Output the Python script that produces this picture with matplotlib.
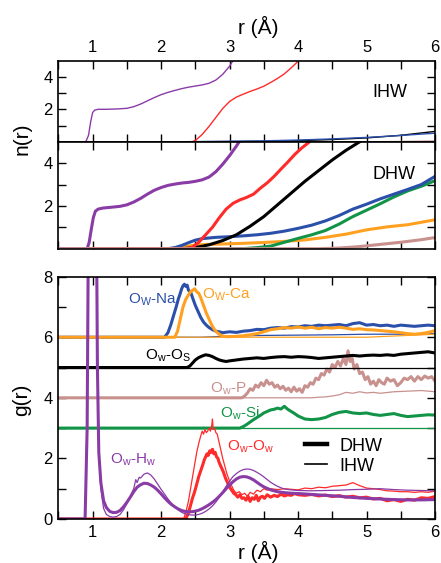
import matplotlib
matplotlib.use("Agg")
import matplotlib.pyplot as plt
from matplotlib.ticker import FixedLocator, MultipleLocator
from matplotlib.lines import Line2D

plt.rcParams['font.family'] = ['Liberation Sans', 'DejaVu Sans']
plt.rcParams['mathtext.fontset'] = 'custom'
plt.rcParams['mathtext.rm'] = 'Liberation Sans'

PURPLE = '#8a3ca6'
RED = '#ff2a2a'
BLUE = '#2b50aa'
ORANGE = '#ffa020'
GREEN = '#129448'
PINK = '#c8918e'
BLACK = '#000000'

# ---------------- n(r), IHW (top panel) ----------------
ihw_n_oh_r = [0.5, 0.9, 0.94, 0.97, 1.0, 1.03, 1.08, 1.2, 1.35, 1.5, 1.6, 1.7, 1.8, 1.9, 2.0, 2.1, 2.2, 2.3, 2.4, 2.5, 2.6, 2.7, 2.8, 2.9, 3.0, 3.05, 3.1]
ihw_n_oh = [0, 0, 0.4, 1.2, 1.8, 1.95, 2.0, 2.0, 2.02, 2.06, 2.16, 2.32, 2.52, 2.72, 2.9, 3.04, 3.16, 3.27, 3.36, 3.43, 3.5, 3.6, 3.8, 4.15, 4.65, 5.0, 5.4]
ihw_n_oo_r = [0.5, 2.45, 2.5, 2.6, 2.7, 2.8, 2.9, 3.0, 3.1, 3.2, 3.3, 3.4, 3.5, 3.6, 3.7, 3.8, 3.9, 4.0, 4.1]
ihw_n_oo = [0, 0, 0.08, 0.45, 0.95, 1.5, 2.05, 2.48, 2.75, 2.93, 3.1, 3.25, 3.42, 3.65, 3.9, 4.18, 4.55, 4.95, 5.4]
ihw_n_na_r = [0.5, 2.2, 2.6, 3.0, 3.5, 4.0, 4.5, 5.0, 5.5, 6.0]
ihw_n_na = [0, 0, 0.02, 0.04, 0.06, 0.11, 0.18, 0.27, 0.39, 0.53]
ihw_n_os_r = [0.5, 2.6, 3.0, 3.5, 4.0, 4.5, 5.0, 5.5, 6.0]
ihw_n_os = [0, 0, 0.01, 0.03, 0.07, 0.14, 0.24, 0.4, 0.64]
ihw_n_p_r = [0.5, 5.0, 5.5, 6.0]
ihw_n_p = [0, 0, 0.02, 0.05]

# ---------------- n(r), DHW (middle panel) ----------------
dhw_n_oh_r = [0.5, 0.92, 0.95, 0.98, 1.01, 1.04, 1.08, 1.15, 1.25, 1.4, 1.5, 1.6, 1.7, 1.8, 1.9, 2.0, 2.1, 2.2, 2.3, 2.4, 2.5, 2.6, 2.7, 2.8, 2.9, 3.0, 3.1, 3.2]
dhw_n_oh = [0, 0, 0.3, 0.9, 1.45, 1.75, 1.85, 1.9, 1.93, 1.98, 2.05, 2.18, 2.35, 2.55, 2.73, 2.86, 2.96, 3.02, 3.07, 3.1, 3.15, 3.22, 3.35, 3.6, 3.95, 4.35, 4.8, 5.3]
dhw_n_oo_r = [0.5, 2.35, 2.45, 2.55, 2.65, 2.75, 2.85, 2.95, 3.05, 3.15, 3.25, 3.35, 3.45, 3.55, 3.65, 3.75, 3.85, 3.95, 4.05, 4.15, 4.25]
dhw_n_oo = [0, 0, 0.05, 0.3, 0.65, 1.0, 1.45, 1.85, 2.12, 2.28, 2.4, 2.55, 2.83, 3.08, 3.38, 3.72, 4.05, 4.4, 4.7, 4.95, 5.3]
dhw_n_os_r = [0.5, 2.3, 2.5, 2.7, 2.9, 3.1, 3.3, 3.5, 3.7, 3.9, 4.1, 4.3, 4.5, 4.7, 4.9, 5.0]
dhw_n_os = [0, 0, 0.05, 0.18, 0.38, 0.65, 1.05, 1.5, 2.05, 2.6, 3.15, 3.65, 4.15, 4.6, 5.0, 5.25]
dhw_n_na_r = [0.5, 2.1, 2.2, 2.3, 2.4, 2.5, 2.6, 2.8, 3.0, 3.2, 3.4, 3.6, 3.8, 4.0, 4.2, 4.4, 4.6, 4.8, 5.0, 5.2, 5.4, 5.6, 5.8, 6.0]
dhw_n_na = [0, 0, 0.05, 0.15, 0.28, 0.4, 0.47, 0.53, 0.56, 0.6, 0.65, 0.72, 0.82, 0.95, 1.1, 1.3, 1.55, 1.85, 2.08, 2.33, 2.55, 2.77, 3.0, 3.38]
dhw_n_si_r = [0.5, 3.2, 3.4, 3.6, 3.8, 4.0, 4.2, 4.4, 4.6, 4.8, 5.0, 5.2, 5.4, 5.6, 5.8, 6.0]
dhw_n_si = [0, 0, 0.05, 0.12, 0.3, 0.48, 0.65, 0.85, 1.15, 1.5, 1.8, 2.1, 2.42, 2.7, 2.92, 3.18]
dhw_n_ca_r = [0.5, 2.15, 2.3, 2.5, 2.7, 2.9, 3.2, 3.5, 3.8, 4.1, 4.4, 4.7, 5.0, 5.3, 5.6, 6.0]
dhw_n_ca = [0, 0, 0.08, 0.17, 0.2, 0.22, 0.25, 0.29, 0.34, 0.41, 0.53, 0.68, 0.88, 1.02, 1.12, 1.35]
dhw_n_p_r = [0.5, 4.3, 4.6, 4.9, 5.2, 5.5, 5.8, 6.0]
dhw_n_p = [0, 0, 0.03, 0.1, 0.2, 0.3, 0.42, 0.52]

# ---------------- g(r) (bottom panel) ----------------
# O_w-H_w
dhw_g_oh_r = [0.5, 0.89, 0.92, 0.95, 0.98, 1.0, 1.03, 1.05, 1.07, 1.09, 1.12, 1.16, 1.2, 1.25, 1.3, 1.35, 1.4, 1.45, 1.5, 1.55, 1.6, 1.65, 1.7, 1.75, 1.8, 1.85, 1.9, 1.95, 2.0, 2.05, 2.1, 2.15, 2.2, 2.25, 2.3, 2.35, 2.4, 2.45, 2.5, 2.55, 2.6, 2.65, 2.7, 2.75, 2.8, 2.85, 2.9, 2.95, 3.0, 3.05, 3.1, 3.15, 3.2, 3.25, 3.3, 3.35, 3.4, 3.45, 3.5, 3.6, 3.7, 3.8, 3.9, 4.0, 4.2, 4.4, 4.6, 4.8, 5.0, 5.2, 5.4, 5.6, 5.8, 6.0]
dhw_g_oh = [0, 0, 3, 14, 32, 38, 25, 12, 5, 2.2, 1.2, 0.6, 0.38, 0.25, 0.21, 0.22, 0.28, 0.4, 0.55, 0.72, 0.9, 1.05, 1.13, 1.18, 1.17, 1.12, 1.05, 0.95, 0.83, 0.7, 0.58, 0.48, 0.4, 0.33, 0.28, 0.25, 0.24, 0.24, 0.26, 0.29, 0.34, 0.4, 0.47, 0.55, 0.64, 0.75, 0.87, 1.0, 1.12, 1.23, 1.32, 1.38, 1.4, 1.39, 1.35, 1.29, 1.21, 1.13, 1.06, 0.96, 0.9, 0.87, 0.85, 0.84, 0.81, 0.78, 0.75, 0.71, 0.68, 0.66, 0.64, 0.63, 0.63, 0.64]
ihw_g_oh_r = [0.5, 0.89, 0.92, 0.95, 0.98, 1.0, 1.03, 1.05, 1.07, 1.09, 1.12, 1.16, 1.2, 1.25, 1.3, 1.35, 1.4, 1.45, 1.5, 1.55, 1.6, 1.63, 1.65, 1.68, 1.7, 1.75, 1.8, 1.85, 1.9, 1.95, 2.0, 2.05, 2.1, 2.15, 2.2, 2.25, 2.3, 2.35, 2.4, 2.45, 2.5, 2.55, 2.6, 2.65, 2.7, 2.75, 2.8, 2.85, 2.9, 2.95, 3.0, 3.05, 3.1, 3.15, 3.2, 3.25, 3.3, 3.35, 3.4, 3.45, 3.5, 3.55, 3.6, 3.65, 3.7, 3.75, 3.8, 3.9, 4.0, 4.2, 4.4, 4.6, 4.8, 5.0, 5.2, 5.4, 5.6, 5.8, 6.0]
ihw_g_oh = [0, 0, 3.5, 17, 38, 45, 30, 14, 5.5, 2.4, 1.0, 0.35, 0.15, 0.08, 0.06, 0.08, 0.15, 0.3, 0.5, 0.75, 1.0, 1.3, 1.2, 1.38, 1.35, 1.48, 1.52, 1.45, 1.32, 1.15, 0.98, 0.82, 0.66, 0.52, 0.4, 0.3, 0.22, 0.17, 0.14, 0.13, 0.13, 0.15, 0.19, 0.25, 0.33, 0.43, 0.56, 0.72, 0.9, 1.08, 1.25, 1.4, 1.5, 1.58, 1.63, 1.65, 1.64, 1.6, 1.54, 1.47, 1.39, 1.3, 1.21, 1.14, 1.08, 1.03, 0.99, 0.96, 0.94, 0.93, 0.94, 0.95, 0.97, 0.98, 1.0, 0.97, 0.95, 0.94, 0.93]

# O_w-O_w
dhw_g_oo_r = [0.5, 2.36, 2.4, 2.43, 2.46, 2.49, 2.52, 2.55, 2.58, 2.61, 2.63, 2.65, 2.67, 2.69, 2.71, 2.73, 2.75, 2.77, 2.79, 2.81, 2.83, 2.85, 2.88, 2.91, 2.94, 2.97, 3.0, 3.03, 3.06, 3.09, 3.12, 3.15, 3.18, 3.21, 3.24, 3.27, 3.3, 3.33, 3.36, 3.39, 3.42, 3.45, 3.48, 3.51, 3.55, 3.6, 3.65, 3.7, 3.75, 3.8, 3.85, 3.9, 3.95, 4.0, 4.1, 4.2, 4.3, 4.4, 4.5, 4.6, 4.7, 4.8, 4.9, 5.0, 5.1, 5.2, 5.3, 5.4, 5.5, 5.6, 5.7, 5.8, 5.9, 6.0]
dhw_g_oo = [0, 0, 0.2, 0.45, 0.7, 0.9, 1.15, 1.4, 1.6, 1.8, 1.95, 2.05, 2.15, 2.1, 2.25, 2.2, 2.3, 2.15, 2.2, 2.05, 2.0, 1.85, 1.7, 1.55, 1.35, 1.2, 1.05, 0.95, 0.85, 0.8, 0.72, 0.8, 0.68, 0.7, 0.62, 0.75, 0.58, 0.7, 0.65, 0.78, 0.6, 0.72, 0.75, 0.68, 0.8, 0.72, 0.78, 0.74, 0.82, 0.76, 0.8, 0.78, 0.84, 0.8, 0.78, 0.81, 0.76, 0.79, 0.74, 0.77, 0.72, 0.75, 0.7, 0.72, 0.66, 0.68, 0.6, 0.64, 0.58, 0.65, 0.62, 0.7, 0.68, 0.74]
ihw_g_oo_r = [0.5, 2.33, 2.37, 2.4, 2.43, 2.46, 2.49, 2.52, 2.55, 2.58, 2.6, 2.62, 2.64, 2.66, 2.68, 2.7, 2.72, 2.74, 2.75, 2.76, 2.78, 2.8, 2.82, 2.84, 2.86, 2.88, 2.9, 2.93, 2.96, 3.0, 3.03, 3.06, 3.1, 3.14, 3.18, 3.22, 3.26, 3.3, 3.35, 3.4, 3.45, 3.5, 3.55, 3.6, 3.7, 3.8, 3.9, 4.0, 4.1, 4.2, 4.3, 4.4, 4.5, 4.6, 4.7, 4.8, 4.9, 5.0, 5.1, 5.2, 5.3, 5.4, 5.5, 5.6, 5.7, 5.8, 5.9, 6.0]
ihw_g_oo = [0, 0, 0.3, 0.6, 1.0, 1.4, 1.8, 2.2, 2.5, 2.75, 2.9, 2.8, 2.95, 2.85, 2.9, 3.0, 2.9, 3.1, 3.3, 2.95, 3.0, 2.85, 2.8, 2.6, 2.4, 2.2, 2.0, 1.75, 1.5, 1.25, 1.1, 0.95, 0.85, 0.9, 0.8, 0.85, 0.75, 0.88, 0.82, 0.95, 0.9, 1.0, 0.95, 1.0, 0.97, 1.0, 0.98, 0.96, 1.02, 1.0, 1.05, 1.03, 1.08, 1.1, 1.12, 1.2, 1.1, 1.02, 1.0, 0.97, 0.93, 0.92, 0.9, 0.9, 0.88, 0.9, 0.88, 0.92]

# O_w-Si (offset +3)
dhw_g_si_r = [0.5, 3.15, 3.2, 3.25, 3.3, 3.35, 3.4, 3.45, 3.5, 3.55, 3.6, 3.65, 3.7, 3.75, 3.8, 3.85, 3.9, 3.95, 4.0, 4.05, 4.1, 4.2, 4.3, 4.4, 4.5, 4.6, 4.7, 4.8, 4.9, 5.0, 5.1, 5.2, 5.3, 5.4, 5.5, 5.6, 5.7, 5.8, 5.9, 6.0]
dhw_g_si = [3, 3, 3.05, 3.12, 3.2, 3.28, 3.35, 3.42, 3.5, 3.55, 3.6, 3.62, 3.66, 3.63, 3.72, 3.62, 3.55, 3.48, 3.4, 3.35, 3.3, 3.28, 3.3, 3.35, 3.45, 3.52, 3.55, 3.5, 3.48, 3.5, 3.45, 3.42, 3.45, 3.48, 3.42, 3.38, 3.4, 3.42, 3.44, 3.43]
ihw_g_si_r = [0.5, 6.0]
ihw_g_si = [3, 3]

# O_w-P (offset +4)
dhw_g_p_r = [0.5, 3.18, 3.22, 3.26, 3.3, 3.34, 3.38, 3.42, 3.46, 3.5, 3.54, 3.58, 3.62, 3.66, 3.7, 3.74, 3.78, 3.82, 3.86, 3.9, 3.94, 3.98, 4.02, 4.06, 4.1, 4.14, 4.18, 4.22, 4.26, 4.3, 4.34, 4.38, 4.42, 4.46, 4.5, 4.54, 4.58, 4.62, 4.66, 4.7, 4.73, 4.76, 4.79, 4.82, 4.86, 4.9, 4.94, 4.98, 5.02, 5.06, 5.1, 5.14, 5.18, 5.22, 5.26, 5.3, 5.35, 5.4, 5.45, 5.5, 5.55, 5.6, 5.65, 5.7, 5.75, 5.8, 5.85, 5.9, 5.95, 6.0]
dhw_g_p = [4, 4, 4.06, 4.16, 4.3, 4.25, 4.42, 4.35, 4.5, 4.4, 4.58, 4.45, 4.5, 4.35, 4.42, 4.3, 4.38, 4.25, 4.32, 4.2, 4.35, 4.22, 4.3, 4.18, 4.4, 4.35, 4.5, 4.45, 4.65, 4.6, 4.8, 4.75, 4.95, 4.85, 5.1, 5.0, 5.2, 5.05, 5.3, 5.1, 5.55, 5.2, 5.3, 4.95, 5.1, 4.8, 4.85, 4.6, 4.7, 4.45, 4.55, 4.4, 4.6, 4.5, 4.45, 4.65, 4.55, 4.6, 4.4, 4.5, 4.65, 4.6, 4.7, 4.55, 4.7, 4.6, 4.72, 4.65, 4.7, 4.55]
ihw_g_p_r = [0.5, 4.2, 4.3, 4.4, 4.5, 4.6, 4.7, 4.8, 4.9, 5.0, 5.1, 5.2, 5.4, 5.6, 5.8, 6.0]
ihw_g_p = [4, 4, 4.02, 4.03, 4.06, 4.1, 4.18, 4.15, 4.2, 4.16, 4.18, 4.15, 4.2, 4.22, 4.24, 4.2]

# O_w-O_s (offset +5)
dhw_g_os_r = [0.5, 2.38, 2.42, 2.46, 2.5, 2.55, 2.6, 2.65, 2.7, 2.75, 2.8, 2.85, 2.9, 2.95, 3.0, 3.1, 3.2, 3.3, 3.4, 3.5, 3.6, 3.7, 3.8, 3.9, 4.0, 4.1, 4.2, 4.3, 4.4, 4.5, 4.6, 4.7, 4.8, 4.9, 5.0, 5.1, 5.2, 5.3, 5.4, 5.5, 5.6, 5.7, 5.8, 5.9, 6.0]
dhw_g_os = [5, 5, 5.05, 5.15, 5.25, 5.33, 5.38, 5.42, 5.4, 5.36, 5.3, 5.25, 5.22, 5.2, 5.22, 5.25, 5.28, 5.3, 5.32, 5.3, 5.33, 5.35, 5.36, 5.34, 5.36, 5.35, 5.33, 5.3, 5.32, 5.34, 5.36, 5.38, 5.4, 5.38, 5.4, 5.41, 5.4, 5.42, 5.4, 5.44, 5.46, 5.48, 5.5, 5.52, 5.48]
ihw_g_os_r = [0.5, 6.0]
ihw_g_os = [5, 5]

# O_w-Na (offset +6)
dhw_g_na_r = [0.5, 2.05, 2.1, 2.14, 2.18, 2.22, 2.25, 2.28, 2.3, 2.32, 2.34, 2.36, 2.38, 2.4, 2.43, 2.46, 2.5, 2.54, 2.58, 2.62, 2.66, 2.7, 2.75, 2.8, 2.85, 2.9, 3.0, 3.1, 3.2, 3.3, 3.4, 3.5, 3.6, 3.7, 3.8, 3.9, 4.0, 4.1, 4.2, 4.3, 4.4, 4.5, 4.6, 4.7, 4.8, 4.9, 5.0, 5.1, 5.2, 5.3, 5.4, 5.5, 5.6, 5.7, 5.8, 5.9, 6.0]
dhw_g_na = [6, 6, 6.15, 6.4, 6.7, 7.0, 7.25, 7.45, 7.6, 7.7, 7.75, 7.68, 7.72, 7.55, 7.5, 7.3, 7.05, 6.85, 6.65, 6.5, 6.4, 6.32, 6.25, 6.2, 6.18, 6.15, 6.18, 6.16, 6.2, 6.22, 6.26, 6.25, 6.3, 6.32, 6.3, 6.35, 6.34, 6.38, 6.36, 6.4, 6.38, 6.4, 6.42, 6.38, 6.45, 6.48, 6.4, 6.42, 6.38, 6.4, 6.36, 6.4, 6.38, 6.36, 6.38, 6.4, 6.38]
ihw_g_na_r = [0.5, 2.6, 3.0, 3.5, 4.0, 4.5, 5.0, 5.5, 6.0]
ihw_g_na = [6, 6.0, 6.04, 6.06, 6.07, 6.08, 6.1, 6.1, 6.12]

# O_w-Ca (offset +6)
dhw_g_ca_r = [0.5, 2.2, 2.24, 2.28, 2.32, 2.36, 2.4, 2.43, 2.46, 2.49, 2.52, 2.55, 2.58, 2.62, 2.66, 2.7, 2.74, 2.78, 2.82, 2.86, 2.9, 2.95, 3.0, 3.1, 3.2, 3.3, 3.4, 3.5, 3.6, 3.7, 3.8, 3.9, 4.0, 4.1, 4.2, 4.3, 4.4, 4.5, 4.6, 4.7, 4.8, 4.9, 5.0, 5.1, 5.2, 5.3, 5.4, 5.5, 5.6, 5.7, 5.8, 5.9, 6.0]
dhw_g_ca = [6, 6, 6.2, 6.6, 7.0, 7.25, 7.4, 7.5, 7.55, 7.6, 7.5, 7.45, 7.3, 7.05, 6.8, 6.6, 6.4, 6.25, 6.15, 6.08, 6.04, 6.02, 6.02, 6.03, 6.05, 6.08, 6.12, 6.18, 6.25, 6.28, 6.32, 6.3, 6.34, 6.3, 6.33, 6.28, 6.32, 6.3, 6.33, 6.3, 6.26, 6.28, 6.25, 6.24, 6.22, 6.2, 6.18, 6.15, 6.12, 6.1, 6.12, 6.16, 6.22]
ihw_g_ca_r = [0.5, 5.0, 5.3, 5.6, 6.0]
ihw_g_ca = [6, 6.0, 6.03, 6.06, 6.1]

x_major = [1, 2, 3, 4, 5, 6]

# ---------------- figure ----------------
fig = plt.figure(figsize=(4.41, 5.63), dpi=100)
L, W = 0.1324, 0.854
ax_top = fig.add_axes([L, 0.7481, W, 0.1444])
ax_mid = fig.add_axes([L, 0.5583, W, 0.1899])
ax_g = fig.add_axes([L, 0.0782, W, 0.4304])

THICK = 2.2
THIN = 0.9

# top IHW
ax_top.plot(ihw_n_p_r, ihw_n_p, color=PINK, lw=1.0)
ax_top.plot(ihw_n_os_r, ihw_n_os, color=BLACK, lw=1.0)
ax_top.plot(ihw_n_na_r, ihw_n_na, color=BLUE, lw=1.0)
ax_top.plot(ihw_n_oo_r, ihw_n_oo, color=RED, lw=1.0)
ax_top.plot(ihw_n_oh_r, ihw_n_oh, color=PURPLE, lw=1.0)

# middle DHW
ax_mid.plot(dhw_n_ca_r, dhw_n_ca, color=ORANGE, lw=THICK)
ax_mid.plot(dhw_n_si_r, dhw_n_si, color=GREEN, lw=THICK)
ax_mid.plot(dhw_n_na_r, dhw_n_na, color=BLUE, lw=THICK)
ax_mid.plot(dhw_n_os_r, dhw_n_os, color=BLACK, lw=THICK)
ax_mid.plot(dhw_n_oo_r, dhw_n_oo, color=RED, lw=THICK)
ax_mid.plot(dhw_n_oh_r, dhw_n_oh, color=PURPLE, lw=THICK)
ax_mid.plot(dhw_n_p_r, dhw_n_p, color=PINK, lw=THICK)

# bottom g(r)
ax_g.plot(ihw_g_si_r, ihw_g_si, color=GREEN, lw=THIN)
ax_g.plot(dhw_g_si_r, dhw_g_si, color=GREEN, lw=THICK)
ax_g.plot(ihw_g_p_r, ihw_g_p, color=PINK, lw=THIN)
ax_g.plot(dhw_g_p_r, dhw_g_p, color=PINK, lw=THICK)
ax_g.plot(ihw_g_os_r, ihw_g_os, color=BLACK, lw=THIN)
ax_g.plot(dhw_g_os_r, dhw_g_os, color=BLACK, lw=THICK)
ax_g.plot(ihw_g_na_r, ihw_g_na, color=BLUE, lw=THIN)
ax_g.plot(ihw_g_ca_r, ihw_g_ca, color=ORANGE, lw=THIN)
ax_g.plot(dhw_g_na_r, dhw_g_na, color=BLUE, lw=THICK)
ax_g.plot(dhw_g_ca_r, dhw_g_ca, color=ORANGE, lw=THICK)
ax_g.plot(ihw_g_oo_r, ihw_g_oo, color=RED, lw=THIN)
ax_g.plot(dhw_g_oo_r, dhw_g_oo, color=RED, lw=THICK)
ax_g.plot(ihw_g_oh_r, ihw_g_oh, color=PURPLE, lw=THIN)
ax_g.plot(dhw_g_oh_r, dhw_g_oh, color=PURPLE, lw=THICK)

TICKFS = 12
for ax in (ax_top, ax_mid, ax_g):
    ax.set_xlim(0.5, 6.0)
    ax.xaxis.set_major_locator(FixedLocator(x_major))
    ax.xaxis.set_minor_locator(MultipleLocator(0.5))
    ax.tick_params(which='both', direction='in', top=True, right=True,
                   length=6, width=1.0, labelsize=TICKFS, pad=4)
    for s in ax.spines.values():
        s.set_linewidth(1.2)

for ax in (ax_top, ax_mid):
    ax.set_ylim(0, 5)
    ax.yaxis.set_major_locator(FixedLocator([2, 4]))
    ax.yaxis.set_minor_locator(FixedLocator([1, 3]))

ax_g.set_ylim(0, 8)
ax_g.yaxis.set_major_locator(FixedLocator([0, 2, 4, 6, 8]))
ax_g.yaxis.set_minor_locator(FixedLocator([1, 3, 5, 7]))

ax_top.tick_params(axis='x', labelbottom=False, labeltop=True)
ax_mid.tick_params(axis='x', labelbottom=False, labeltop=False)

fig.text(258 / 441, 1 - 27 / 563, 'r (Å)', fontsize=15, ha='center', va='center')
fig.text(258 / 441, 1 - 552 / 563, 'r (Å)', fontsize=15, ha='center', va='center')
fig.text(22 / 441, 1 - 139 / 563, 'n(r)', fontsize=15, ha='center', va='center', rotation=90)
fig.text(22 / 441, 1 - 400 / 563, 'g(r)', fontsize=15, ha='center', va='center', rotation=90)

ax_top.text(5.09, 2.73, 'IHW', fontsize=13, ha='left', va='baseline')
ax_mid.text(5.08, 3.27, 'DHW', fontsize=13, ha='left', va='baseline')

LFS = 11
ax_g.text(1.52, 7.13, r'O$_\mathregular{W}$-Na', color=BLUE, fontsize=LFS, va='baseline')
ax_g.text(2.60, 7.30, r'O$_\mathregular{W}$-Ca', color=ORANGE, fontsize=LFS, va='baseline')
ax_g.text(1.76, 5.28, r'O$_\mathregular{w}$-O$_\mathregular{S}$', color=BLACK, fontsize=LFS, va='baseline')
ax_g.text(2.72, 4.19, r'O$_\mathregular{w}$-P', color=PINK, fontsize=LFS, va='baseline')
ax_g.text(2.86, 3.36, r'O$_\mathregular{w}$-Si', color=GREEN, fontsize=LFS, va='baseline')
ax_g.text(1.25, 1.85, r'O$_\mathregular{w}$-H$_\mathregular{w}$', color=PURPLE, fontsize=LFS, va='baseline')
ax_g.text(2.96, 2.28, r'O$_\mathregular{w}$-O$_\mathregular{w}$', color=RED, fontsize=LFS, va='baseline')

handles = [Line2D([], [], color='black', lw=3.2), Line2D([], [], color='black', lw=1.2)]
ax_g.legend(handles, ['DHW', 'IHW'], loc='upper left', bbox_to_anchor=(0.655, 0.335),
            frameon=False, fontsize=13, handlelength=1.2, handletextpad=0.7,
            labelspacing=0.15, borderpad=0, borderaxespad=0)

fig.savefig('out.png', dpi=100)
